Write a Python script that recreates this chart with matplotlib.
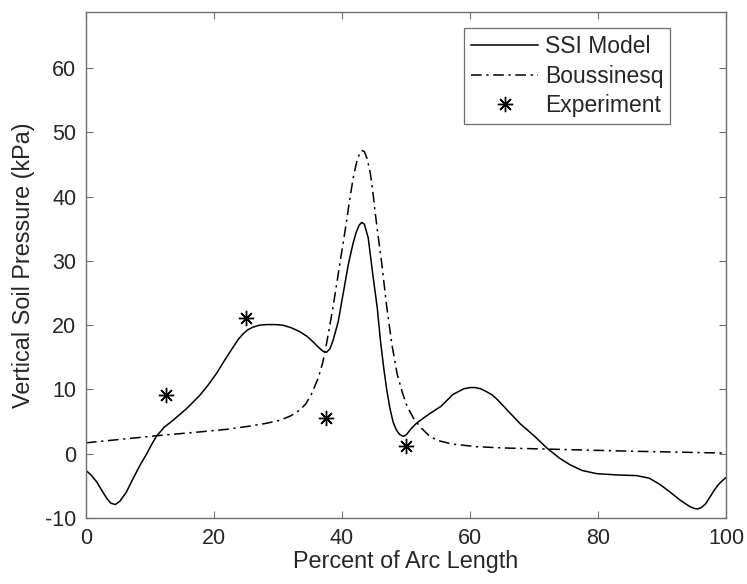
import matplotlib
matplotlib.use("Agg")
import matplotlib.pyplot as plt

plt.rcParams['font.family'] = ['Liberation Sans', 'DejaVu Sans']
plt.rcParams['axes.unicode_minus'] = False

# SSI model curve
ssi_x = [0, 0.8, 1.7, 2.6, 3.3, 3.9, 4.6, 5.3, 6.3, 7.4, 8.5, 9.5, 10.3, 11, 12.2, 13.6,
         15.7, 17.8, 19.1, 20.4, 21.7, 23.0, 23.8, 24.6, 25.3, 26.1, 27.1, 28.2, 29.5,
         30.8, 32.1, 33.4, 34.5, 35.5, 36.4, 37.1, 37.6, 38.1, 38.6, 39.4, 40.2, 41.0,
         41.7, 42.2, 42.7, 43.1, 43.5, 44.1, 44.8, 45.5, 46, 46.5, 47, 47.5, 48, 48.5,
         49.0, 49.6, 50.1, 50.8, 51.7, 52.8, 53.8, 55.5, 57.3, 59, 60, 60.8, 61.7, 62.5,
         63.4, 64.2, 66, 67.8, 70, 72, 74, 75.6, 77.5, 79.8, 83, 86, 88, 89.7, 91.3,
         92.8, 94.3, 95.0, 95.5, 96.1, 96.8, 97.5, 98.2, 98.8, 99.4, 100]
ssi_y = [-2.6, -3.3, -4.4, -5.9, -7.0, -7.7, -7.9, -7.4, -6.0, -3.8, -1.7, 0.0, 1.5, 2.7,
         4.1, 5.2, 7.0, 9.1, 10.7, 12.5, 14.6, 16.6, 17.8, 18.7, 19.3, 19.7, 20.0, 20.1,
         20.1, 20.0, 19.6, 19.0, 18.3, 17.4, 16.5, 15.9, 15.8, 16.3, 17.6, 20.5, 25.0,
         29.5, 32.6, 34.4, 35.6, 36.0, 35.7, 33.6, 28.0, 22.8, 17.7, 13.5, 9.9, 7.0,
         4.9, 3.7, 3.0, 2.7, 3.0, 3.9, 4.8, 5.6, 6.3, 7.4, 9.2, 10.1, 10.3, 10.3, 10.1,
         9.7, 9.2, 8.5, 6.6, 4.7, 2.8, 0.9, -0.7, -1.7, -2.6, -3.1, -3.3, -3.4, -3.8,
         -4.8, -6.0, -7.2, -8.2, -8.5, -8.6, -8.4, -7.8, -6.7, -5.6, -4.8, -4.2, -3.7]

# Boussinesq curve
bou_x = [0, 5, 11, 17.8, 22, 25.6, 28, 30.3, 32, 33.4, 34.3, 35.2, 36.3, 37.0, 37.6, 38.6,
         39.5, 40.5, 41.2, 41.8, 42.3, 42.7, 43.1, 43.5, 43.9, 44.4, 44.8, 45.2, 45.7,
         46.2, 47, 47.8, 48.6, 49.4, 50.2, 51.2, 52.2, 53.5, 54.8, 57.3, 61, 65.2,
         73, 85, 100]
bou_y = [1.7, 2.2, 2.8, 3.4, 3.8, 4.3, 4.7, 5.2, 5.9, 6.8, 7.7, 9.2, 11.8, 14.2, 17.2, 22.8,
         28.5, 34.8, 39.5, 43.2, 45.4, 46.6, 47.2, 47.0, 46.0, 43.8, 41.0, 37.4, 33.5,
         29.7, 22.8, 17.0, 12.5, 9.6, 7.3, 5.5, 4.2, 2.9, 2.1, 1.5, 1.1, 0.9, 0.7,
         0.4, 0.1]

# Experiment points
exp_x = [12.5, 25, 37.5, 50]
exp_y = [9.2, 21.2, 5.5, 1.2]

fig = plt.figure(figsize=(7.47, 5.84), dpi=100)
ax = fig.add_axes([0.115, 0.113, 0.857, 0.866])

ax.plot(ssi_x, ssi_y, '-', color='black', lw=1.1, label='SSI Model',
        solid_joinstyle='round')
ax.plot(bou_x, bou_y, color='black', lw=1.1, label='Boussinesq',
        linestyle=(0, (7, 3, 1.5, 3)))
ax.plot(exp_x, exp_y, color='black', ms=11, mew=1.0, linestyle='none',
        marker=(8, 2, 0), label='Experiment')

ax.set_xlim(0, 100)
ax.set_ylim(-10, 68.7)
ax.set_xticks([0, 20, 40, 60, 80, 100])
ax.set_yticks([-10, 0, 10, 20, 30, 40, 50, 60])

txt = '#262626'
for s in ax.spines.values():
    s.set_color('#6e6e6e')
    s.set_linewidth(1.0)
ax.tick_params(direction='in', top=True, right=True, length=5, width=0.8,
               colors='#6e6e6e', labelcolor=txt, labelsize=15.5)
ax.tick_params(axis='y', pad=7)
ax.tick_params(axis='x', pad=7)

ax.set_xlabel('Percent of Arc Length', fontsize=16.8, color=txt, labelpad=1)
ax.set_ylabel('Vertical Soil Pressure (kPa)', fontsize=16.8, color=txt, labelpad=7)

leg = ax.legend(loc='upper right', bbox_to_anchor=(0.9125, 0.968), fontsize=16.5,
                fancybox=False, framealpha=1, edgecolor='#6e6e6e',
                handlelength=2.9, handletextpad=0.3, borderpad=0.3,
                labelspacing=0.28, borderaxespad=0)
leg.get_frame().set_linewidth(0.9)
for t in leg.get_texts():
    t.set_color(txt)

plt.savefig('out.png', dpi=100)
